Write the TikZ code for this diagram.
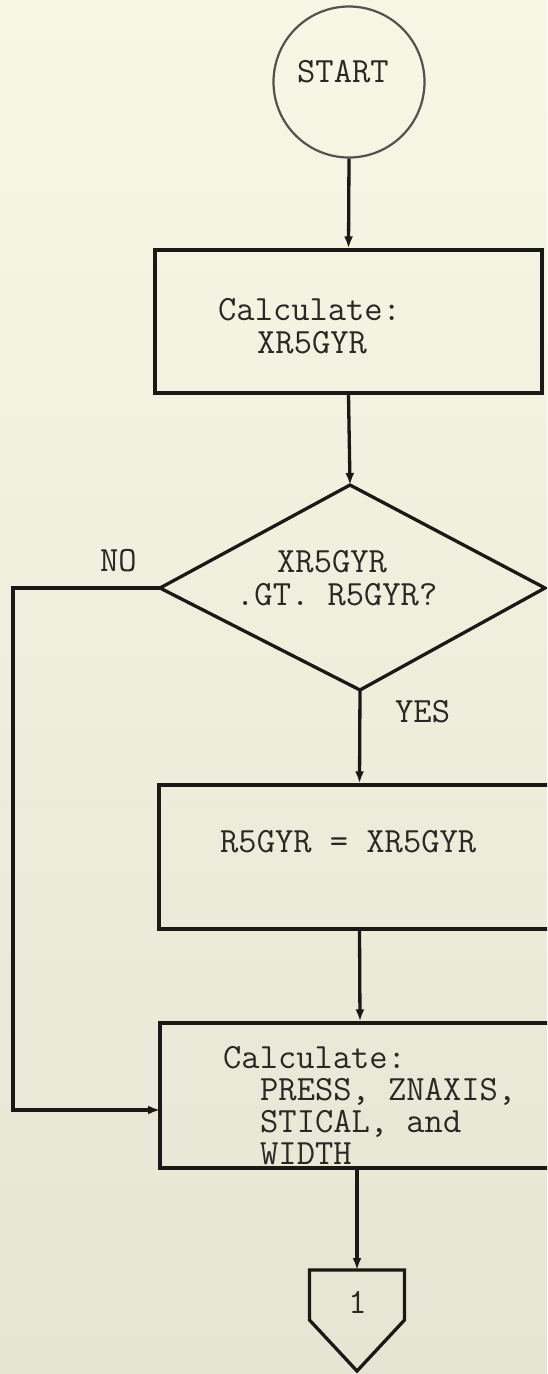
\documentclass[tikz,border=0pt]{standalone}
\usepackage{fontspec}
\usetikzlibrary{arrows.meta}
\definecolor{ink}{RGB}{25,25,22}
\definecolor{txt}{RGB}{40,40,36}
\definecolor{bgtop}{RGB}{247,247,230}
\definecolor{bgbot}{RGB}{229,229,211}
\begin{document}
\begin{tikzpicture}[x=1pt,y=-1pt,
  line/.style={draw=ink, line width=3.3pt},
  arr/.style={line, -{Latex[length=12pt,width=9pt]}},
  box/.style={line, rectangle, inner sep=0pt},
  lbl/.style={font=\ttfamily\fontsize{35.5}{36}\selectfont, text=txt, inner sep=0pt, anchor=base west},
]
\useasboundingbox (0,0) rectangle (547,1374);
\clip (0,0) rectangle (547,1374);
\shade[top color=bgtop, bottom color=bgbot] (0,0) rectangle (547,1374);

% shapes
\node[draw=ink!75, line width=2.2pt, circle, minimum size=151pt, inner sep=0pt] (start) at (349,82) {};
\node[box, minimum width=387pt, minimum height=143pt] (b1) at (348.5,321.5) {};
\coordinate (dT) at (350,485);
\coordinate (dR) at (545,588);
\coordinate (dB) at (360,690);
\coordinate (dL) at (160,588);
\draw[line, line join=miter] (dT) -- (dR) -- (dB) -- (dL) -- cycle;
\node[box, minimum width=401pt, minimum height=144pt] (b2) at (359.5,857) {};
\node[box, minimum width=400pt, minimum height=145pt] (b3) at (360,1095.5) {};
\coordinate (cT) at (357,1270);
\coordinate (cTL) at (309.5,1270);
\coordinate (cTR) at (404.5,1270);
\coordinate (cSR) at (404.5,1320);
\coordinate (cB) at (357,1371);
\coordinate (cSL) at (309.5,1320);
\draw[line, line join=miter] (cTL) -- (cTR) -- (cSR) -- (cB) -- (cSL) -- cycle;

% connectors
\coordinate (lc) at (13,588);
\coordinate (lin) at (160,1110);
\draw[arr] (start.south) -- (b1.north);
\draw[arr] (b1.south) -- (dT);
\draw[arr] (dB) -- (b2.north);
\draw[arr] (b2.south) -- (b3.north);
\draw[arr] (cT |- b3.south) -- (cT);
\draw[arr] (dL) -- (lc) |- (lin);

% texts
\node[lbl] (tstart) at (297,82) {START};
\node[lbl] (t1a) at (218,320) {Calculate:};
\node[lbl] (t1b) at (257,353) {XR5GYR};
\node[lbl] (tda) at (277,572) {XR5GYR};
\node[lbl] (tdb) at (236,605) {.GT. R5GYR?};
\node[lbl] (tno) at (100,571) {NO};
\node[lbl] (tyes) at (395,722) {YES};
\node[lbl] (t2) at (220,852) {R5GYR = XR5GYR};
\node[lbl] (t3a) at (223,1068) {Calculate:};
\node[lbl] (t3b) at (260,1100) {PRESS, ZNAXIS,};
\node[lbl] (t3c) at (260,1132) {STICAL, and};
\node[lbl] (t3d) at (260,1164) {WIDTH};
\node[lbl, anchor=base] (tconn) at (357.5,1313) {1};
\end{tikzpicture}
\end{document}
